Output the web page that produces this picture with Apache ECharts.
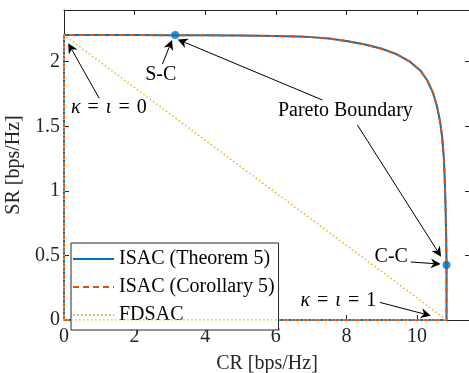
<!DOCTYPE html>
<html>
<head>
<meta charset="utf-8">
<script src="https://cdn.jsdelivr.net/npm/echarts@6/dist/echarts.min.js"></script>
<style>html,body{margin:0;padding:0;background:#fff;}#c{width:469px;height:373px;}</style>
</head>
<body>
<div id="c"></div>
<script>
// ISAC Pareto boundary (Theorem 5), closed along the axes
const isacCR = [0, 0, 1, 2, 3, 3.15, 4, 5, 6, 6.6, 7, 7.5, 8, 8.5, 9, 9.4, 9.8, 10.1, 10.3, 10.45, 10.56, 10.65, 10.71, 10.76, 10.79, 10.81, 10.825, 10.835, 10.835, 0];
const isacSR = [0, 2.206, 2.206, 2.206, 2.205, 2.205, 2.204, 2.202, 2.198, 2.195, 2.19, 2.18, 2.16, 2.135, 2.10, 2.06, 2.00, 1.93, 1.85, 1.76, 1.66, 1.54, 1.42, 1.25, 1.05, 0.85, 0.65, 0.425, 0, 0];
// ISAC (Corollary 5) coincides with Theorem 5
const corCR = isacCR.slice();
const corSR = isacSR.slice();
// FDSAC triangle
const fdsacCR = [0, 0, 10.835, 0];
const fdsacSR = [0, 2.206, 0, 0];
// S-C and C-C points
const pointCR = [3.15, 10.835];
const pointSR = [2.206, 0.425];
// tick settings
const xTicks = {min: 0, max: 11.5, interval: 2};
const yTicks = {min: 0, max: 2.4, interval: 0.5};
// annotations (data coordinates)
const annoTexts = [
  {t: 'S-C', x: 2.74, y: 1.897},
  {t: 'Pareto Boundary', x: 7.97, y: 1.619},
  {t: 'C-C', x: 9.27, y: 0.493},
  {t: '{i|κ}{e|=}{i|ι}{e|=}1', x: 7.77, y: 0.149},
  {t: '{i|κ}{e|=}{i|ι}{e|=}0', x: 1.27, y: 1.646}
];
const annoArrows = [
  [2.79, 1.982, 3.06, 2.168],
  [7.32, 1.703, 3.22, 2.172],
  [8.31, 1.510, 10.68, 0.49],
  [9.82, 0.449, 10.67, 0.433],
  [8.95, 0.136, 10.39, 0.033],
  [0.997, 1.717, 0.12, 2.142]
];

const zip = (a, b) => a.map((v, i) => [v, b[i]]);
const FONT = 'Liberation Serif';
const AX = '#262626';
const FS = 20;

const chart = echarts.init(document.getElementById('c'), null, {renderer: 'canvas'});
const axCommon = {
  axisLine: {show: true, onZero: false, lineStyle: {color: AX, width: 1}},
  axisTick: {show: true, inside: true, length: 5, lineStyle: {color: AX, width: 1}},
  splitLine: {show: false}
};
chart.setOption({
  animation: false,
  backgroundColor: '#fff',
  grid: {left: 64, right: -1, top: 10, bottom: 53, containLabel: false, outerBoundsMode: 'none'},
  xAxis: [
    Object.assign({type: 'value', position: 'bottom', min: xTicks.min, max: xTicks.max, interval: xTicks.interval,
      name: 'CR [bps/Hz]', nameLocation: 'middle', nameGap: 34,
      nameTextStyle: {fontFamily: FONT, fontSize: FS, color: AX},
      axisLabel: {fontFamily: FONT, fontSize: FS, color: AX, margin: 7, showMaxLabel: false}}, axCommon),
    Object.assign({type: 'value', position: 'top', min: xTicks.min, max: xTicks.max, interval: xTicks.interval,
      axisLabel: {show: false}}, axCommon)
  ],
  yAxis: [
    Object.assign({type: 'value', position: 'left', min: yTicks.min, max: yTicks.max, interval: yTicks.interval,
      name: 'SR [bps/Hz]', nameLocation: 'middle', nameGap: 33, nameRotate: 90,
      nameTextStyle: {fontFamily: FONT, fontSize: FS, color: AX},
      axisLabel: {fontFamily: FONT, fontSize: FS, color: AX, margin: 4, showMaxLabel: false}}, axCommon),
    Object.assign({type: 'value', position: 'right', min: yTicks.min, max: yTicks.max, interval: yTicks.interval,
      axisLabel: {show: false}}, axCommon)
  ],
  legend: {
    orient: 'vertical', left: 71, top: 243,
    data: ['ISAC (Theorem 5)', 'ISAC (Corollary 5)', 'FDSAC'],
    itemWidth: 41, itemHeight: 14, itemGap: 8,
    padding: [6, 4, 5, 1],
    borderColor: AX, borderWidth: 1, backgroundColor: '#fff',
    itemStyle: {opacity: 0},
    textStyle: {fontFamily: FONT, fontSize: FS, color: '#000'}
  },
  series: [
    {name: 'ISAC (Theorem 5)', type: 'line', data: zip(isacCR, isacSR), showSymbol: false, symbol: 'none',
      lineStyle: {color: '#0072BD', width: 2}, itemStyle: {color: '#0072BD'}, z: 2},
    {name: 'ISAC (Corollary 5)', type: 'line', data: zip(corCR, corSR), showSymbol: false, symbol: 'none',
      lineStyle: {color: '#D95319', width: 2, type: [6, 4]}, itemStyle: {color: '#D95319'}, z: 3},
    {name: 'FDSAC', type: 'line', data: zip(fdsacCR, fdsacSR), showSymbol: false, symbol: 'none',
      lineStyle: {color: '#EDB120', width: 1.5, type: [1.5, 2.5]}, itemStyle: {color: '#EDB120'}, z: 4},
    {name: 'points', type: 'scatter', data: zip(pointCR, pointSR), symbol: 'circle', symbolSize: 8,
      itemStyle: {color: '#0072BD'}, z: 5}
  ]
});

function px(x, y) { return chart.convertToPixel({gridIndex: 0}, [x, y]); }
const graphics = [];
annoTexts.forEach(a => {
  const p = px(a.x, a.y);
  graphics.push({type: 'text', x: p[0], y: p[1], z: 10,
    style: {text: a.t, fontFamily: FONT, fontSize: FS, fill: '#000', align: 'center', verticalAlign: 'middle',
      rich: {
        i: {fontFamily: FONT, fontSize: FS, fontStyle: 'italic', fill: '#000'},
        e: {fontFamily: FONT, fontSize: FS, fill: '#000', padding: [0, 7]}
      }}});
});
annoArrows.forEach(a => {
  const t = px(a[0], a[1]), h = px(a[2], a[3]);
  const dx = h[0] - t[0], dy = h[1] - t[1];
  const L = Math.hypot(dx, dy), ux = dx / L, uy = dy / L, nx = -uy, ny = ux;
  const hl = 10, hw = 5, notch = 3;
  const bx = h[0] - ux * hl, by = h[1] - uy * hl;
  const mx = h[0] - ux * (hl - notch), my = h[1] - uy * (hl - notch);
  graphics.push({type: 'line', z: 10, shape: {x1: t[0], y1: t[1], x2: mx, y2: my}, style: {stroke: '#000', lineWidth: 1}});
  graphics.push({type: 'polygon', z: 10, shape: {points: [[h[0], h[1]], [bx + nx * hw, by + ny * hw], [mx, my], [bx - nx * hw, by - ny * hw]]},
    style: {fill: '#000'}});
});
chart.setOption({graphic: graphics});
</script>
</body>
</html>
